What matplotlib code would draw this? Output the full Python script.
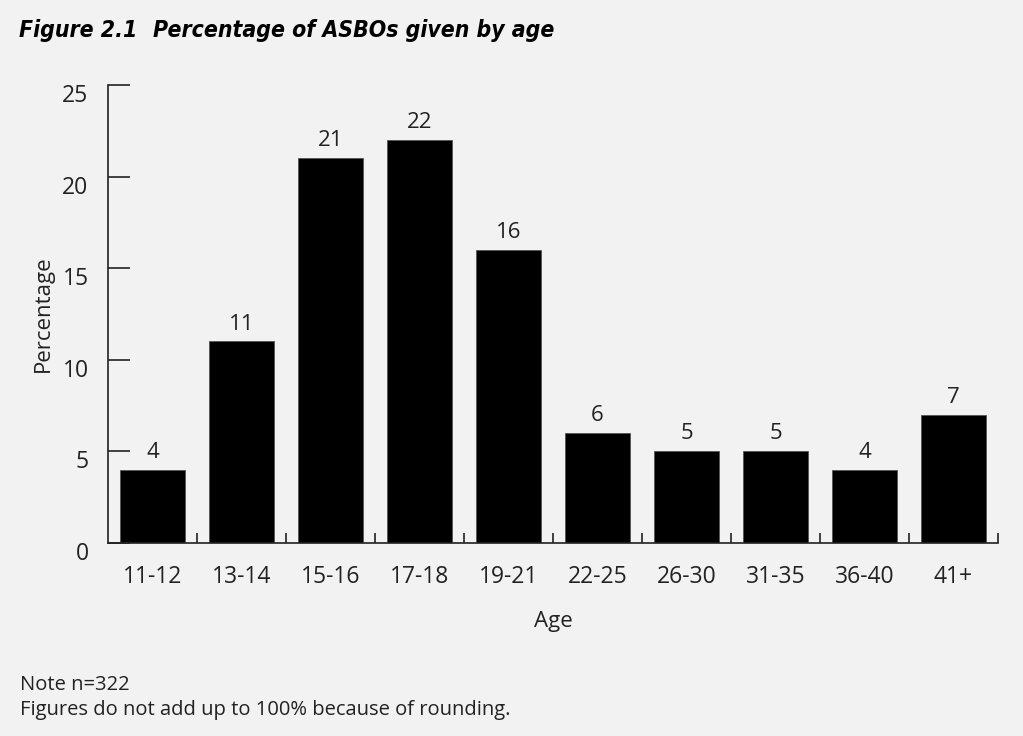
import matplotlib
matplotlib.use("Agg")
import matplotlib.pyplot as plt
import numpy as np
from matplotlib.transforms import ScaledTranslation

# ASBOs by age band (%)
age_bands = ["11-12", "13-14", "15-16", "17-18", "19-21",
             "22-25", "26-30", "31-35", "36-40", "41+"]
percentages = [4, 11, 21, 22, 16, 6, 5, 5, 4, 7]
y_ticks = [0, 5, 10, 15, 20, 25]

BG = "#f2f2f2"
INK = "#222222"
BODY_FONT = ["Open Sans", "DejaVu Sans"]

plt.rcParams["font.family"] = BODY_FONT

fig = plt.figure(figsize=(10.23, 7.36), dpi=100, facecolor=BG)
ax = fig.add_axes([0.1056, 0.2622, 0.870, 0.6223], facecolor=BG)

x = np.arange(len(age_bands))
bars = ax.bar(x, percentages, width=0.73, color="black",
              edgecolor="#555555", linewidth=0.6)
ax.bar_label(bars, labels=[str(v) for v in percentages],
             padding=5, fontsize=16, color=INK)

ax.set_xlim(-0.5, len(age_bands) - 0.5)
ax.set_ylim(0, 25)

for side in ("top", "right"):
    ax.spines[side].set_visible(False)
for side in ("left", "bottom"):
    ax.spines[side].set_linewidth(1.2)
    ax.spines[side].set_color(INK)

# category labels at bar centres, short inward ticks at the band edges
ax.set_xticks(x)
ax.set_xticklabels(age_bands, fontsize=16.5, color=INK)
ax.tick_params(axis="x", which="major", length=0, pad=16)
ax.set_xticks(np.arange(0.5, len(age_bands)), minor=True)
ax.tick_params(axis="x", which="minor", direction="in", length=7,
               width=1.2, color=INK)

ax.set_yticks(y_ticks)
ax.set_yticklabels([str(t) for t in y_ticks], fontsize=16.5, color=INK)
ax.tick_params(axis="y", direction="in", length=16, width=1.2,
               color=INK, pad=14)
for lbl in ax.get_yticklabels():
    lbl.set_transform(lbl.get_transform()
                      + ScaledTranslation(0, -8 / 100, fig.dpi_scale_trans))

ax.set_xlabel("Age", fontsize=16, color=INK, labelpad=16)
ax.set_ylabel("Percentage", fontsize=16, color=INK, labelpad=6)

title_kw = dict(family="DejaVu Sans", fontstretch="condensed", fontsize=16.5,
                fontweight="bold", style="italic", color="black")
fig.text(0.019, 0.950, "Figure 2.1", **title_kw)
fig.text(0.150, 0.950, "Percentage of ASBOs given by age", **title_kw)

fig.text(0.020, 0.062, "Note n=322", fontsize=14.5, color=INK)
fig.text(0.020, 0.028, "Figures do not add up to 100% because of rounding.",
         fontsize=14.5, color=INK)

fig.savefig("out.png", dpi=100, facecolor=BG)
